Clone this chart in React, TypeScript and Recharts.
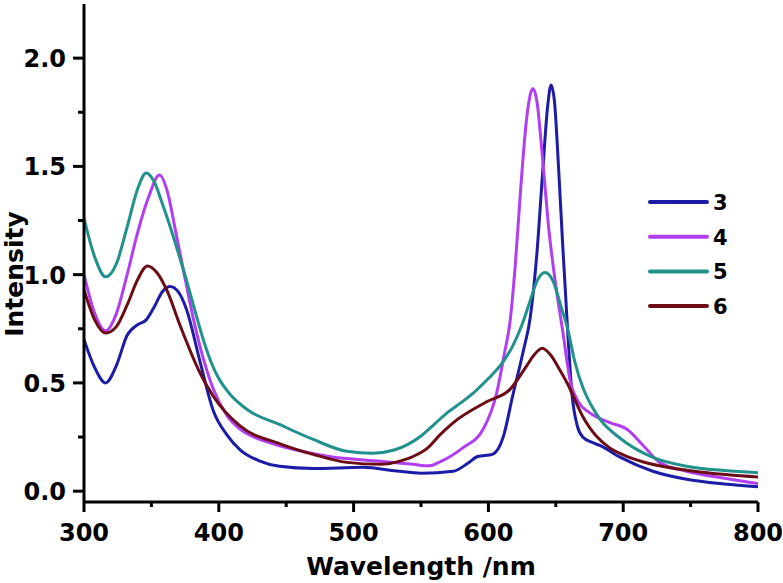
import React from 'react';
import { LineChart, Line, XAxis, YAxis, Legend } from 'recharts';

const xTicks = [300, 350, 400, 450, 500, 550, 600, 650, 700, 750, 800];
const xMajor = [300, 400, 500, 600, 700, 800];
const yTicks = [0, 0.25, 0.5, 0.75, 1.0, 1.25, 1.5, 1.75, 2.0];
const yMajor = [0, 0.5, 1.0, 1.5, 2.0];

const wl3 = [300, 308, 316, 324, 332, 340, 346, 352, 358, 364, 370, 376, 386, 396, 406, 416, 430, 445, 470, 507, 532, 550, 574, 585, 592, 603, 611, 618, 626, 631, 636, 640, 644, 646.5, 649, 652, 655, 659, 662, 666, 670, 677, 683, 698, 722, 747, 775, 800];
const int3 = [0.70, 0.57, 0.50, 0.58, 0.72, 0.77, 0.79, 0.85, 0.92, 0.945, 0.92, 0.84, 0.6, 0.37, 0.26, 0.19, 0.14, 0.115, 0.105, 0.11, 0.093, 0.083, 0.092, 0.13, 0.16, 0.17, 0.25, 0.44, 0.65, 0.8, 1.1, 1.45, 1.78, 1.876, 1.8, 1.5, 1.15, 0.72, 0.45, 0.3, 0.25, 0.225, 0.21, 0.156, 0.092, 0.055, 0.033, 0.02];

const wl4 = [300, 308, 316, 324, 332, 340, 348, 356, 362, 368, 376, 381, 386, 391, 396, 406, 416, 430, 445, 465, 482, 520, 544, 556, 564, 581, 596, 606, 612, 616, 620, 624, 628, 631, 633, 636, 640, 645, 650, 655, 661, 667, 675, 690, 703, 715, 727, 747, 775, 800];
const int4 = [1.0, 0.82, 0.74, 0.82, 1.0, 1.2, 1.36, 1.46, 1.38, 1.2, 0.95, 0.8, 0.67, 0.56, 0.47, 0.35, 0.285, 0.24, 0.21, 0.18, 0.16, 0.138, 0.124, 0.117, 0.135, 0.2, 0.285, 0.45, 0.64, 0.78, 1.05, 1.4, 1.7, 1.83, 1.86, 1.8, 1.55, 1.2, 0.95, 0.745, 0.5, 0.41, 0.363, 0.317, 0.285, 0.21, 0.133, 0.092, 0.06, 0.035];

const wl5 = [300, 308, 316, 324, 332, 340, 346, 352, 358, 364, 370, 376, 382, 388, 394, 400, 408, 421, 445, 470, 495, 514, 530, 540, 550, 560, 570, 580, 590, 600, 610, 618, 625, 631, 636, 642, 648, 654, 659, 664, 670, 676, 683, 697, 722, 747, 775, 800];
const int5 = [1.26, 1.08, 0.99, 1.05, 1.22, 1.4, 1.47, 1.43, 1.33, 1.22, 1.1, 0.975, 0.84, 0.71, 0.6, 0.52, 0.45, 0.377, 0.308, 0.239, 0.184, 0.175, 0.19, 0.215, 0.255, 0.31, 0.365, 0.41, 0.46, 0.52, 0.59, 0.67, 0.77, 0.88, 0.97, 1.01, 0.97, 0.85, 0.745, 0.6, 0.48, 0.4, 0.33, 0.248, 0.156, 0.115, 0.095, 0.085];

const wl6 = [300, 308, 316, 324, 332, 340, 347, 354, 362, 371, 386, 396, 416, 445, 470, 495, 520, 535, 544, 555, 564, 574, 599, 616, 628, 634, 640, 646, 653, 660, 665, 670, 675, 680, 690, 700, 715, 735, 759, 800];
const int6 = [0.93, 0.79, 0.73, 0.76, 0.86, 0.98, 1.04, 1.01, 0.92, 0.77, 0.547, 0.437, 0.3, 0.22, 0.17, 0.133, 0.124, 0.14, 0.16, 0.2, 0.26, 0.317, 0.414, 0.47, 0.575, 0.63, 0.66, 0.63, 0.56, 0.48, 0.41, 0.345, 0.295, 0.255, 0.2, 0.168, 0.135, 0.108, 0.087, 0.065];

const names = ['3', '4', '5', '6'];
const colors = ['#1c1ca6', '#b23ef2', '#21918c', '#6c0d16'];

const toPoints = (wl: number[], v: number[]) => wl.map((x, i) => ({ x, y: v[i] }));
const series = [
  toPoints(wl3, int3),
  toPoints(wl4, int4),
  toPoints(wl5, int5),
  toPoints(wl6, int6),
];

const FONT = '"DejaVu Sans", Arial, sans-serif';

const XTick = (props: any) => {
  const { x, y, payload } = props;
  const major = xMajor.includes(payload.value);
  return (
    <g>
      <line x1={x} x2={x} y1={y} y2={y + (major ? 10 : 5)} stroke="#000" strokeWidth={3} />
      {major && (
        <text x={x} y={y + 39} textAnchor="middle" fontFamily={FONT} fontWeight="bold" fontSize={24} fill="#000">
          {payload.value}
        </text>
      )}
    </g>
  );
};

const YTick = (props: any) => {
  const { x, y, payload } = props;
  const major = yMajor.includes(payload.value);
  return (
    <g>
      <line x1={x - (major ? 11 : 6)} x2={x} y1={y} y2={y} stroke="#000" strokeWidth={3} />
      {major && (
        <text x={x - 18} y={y + 9} textAnchor="end" fontFamily={FONT} fontWeight="bold" fontSize={24} fill="#000">
          {payload.value.toFixed(1)}
        </text>
      )}
    </g>
  );
};

const XLabel = (props: any) => {
  const vb = props.viewBox;
  return (
    <text x={vb.x + vb.width / 2} y={vb.y + 73} textAnchor="middle" fontFamily={FONT} fontWeight="bold" fontSize={25} fill="#000">
      Wavelength /nm
    </text>
  );
};

const YLabel = () => {
  const cx = 23;
  const cy = 274;
  return (
    <text x={cx} y={cy} transform={`rotate(-90 ${cx} ${cy})`} textAnchor="middle" fontFamily={FONT} fontWeight="bold" fontSize={25} fill="#000">
      Intensity
    </text>
  );
};

const LegendContent = () => (
  <svg width={120} height={140}>
    {names.map((n, i) => (
      <g key={n}>
        <line x1={10} x2={67} y1={22 + i * 34.7} y2={22 + i * 34.7} stroke={colors[i]} strokeWidth={4} strokeLinecap="round" />
        <text x={73} y={22 + i * 34.7 + 8} fontFamily={FONT} fontWeight="bold" fontSize={21} fill="#000">
          {n}
        </text>
      </g>
    ))}
  </svg>
);

export default function App() {
  return (
    <div style={{ position: 'absolute', left: 0, top: 0, width: 783, height: 583, background: '#fff' }}>
      <LineChart width={783} height={583} margin={{ top: 4, right: 25, bottom: 0, left: 0 }}>
        <XAxis
          xAxisId={0}
          type="number"
          dataKey="x"
          domain={[300, 800]}
          ticks={xTicks}
          height={81}
          tickSize={0}
          tickMargin={0}
          tick={<XTick />}
          axisLine={{ stroke: '#000', strokeWidth: 3 }}
          tickLine={false}
          label={<XLabel />}
          allowDataOverflow
        />
        <XAxis
          xAxisId="top"
          orientation="top"
          type="number"
          domain={[300, 800]}
          height={0}
          tick={false}
          tickLine={false}
          axisLine={{ stroke: '#000', strokeWidth: 3 }}
        />
        <YAxis
          yAxisId={0}
          type="number"
          domain={[-0.05, 2.25]}
          ticks={yTicks}
          width={84}
          tickSize={0}
          tickMargin={0}
          tick={<YTick />}
          axisLine={{ stroke: '#000', strokeWidth: 3 }}
          tickLine={false}
          label={<YLabel />}
          allowDataOverflow
        />
        <YAxis
          yAxisId="right"
          orientation="right"
          type="number"
          domain={[-0.05, 2.25]}
          width={0}
          tick={false}
          tickLine={false}
          axisLine={{ stroke: '#000', strokeWidth: 3 }}
        />
        <Legend
          layout="vertical"
          align="center"
          verticalAlign="middle"
          content={<LegendContent />}
          wrapperStyle={{ left: 640, top: 180, width: 120, height: 140 }}
        />
        {series.map((d, i) => (
          <Line
            key={names[i]}
            xAxisId={0}
            yAxisId={0}
            data={d}
            dataKey="y"
            name={names[i]}
            type="monotone"
            stroke={colors[i]}
            strokeWidth={3}
            dot={false}
            activeDot={false}
            isAnimationActive={false}
          />
        ))}
      </LineChart>
    </div>
  );
}
